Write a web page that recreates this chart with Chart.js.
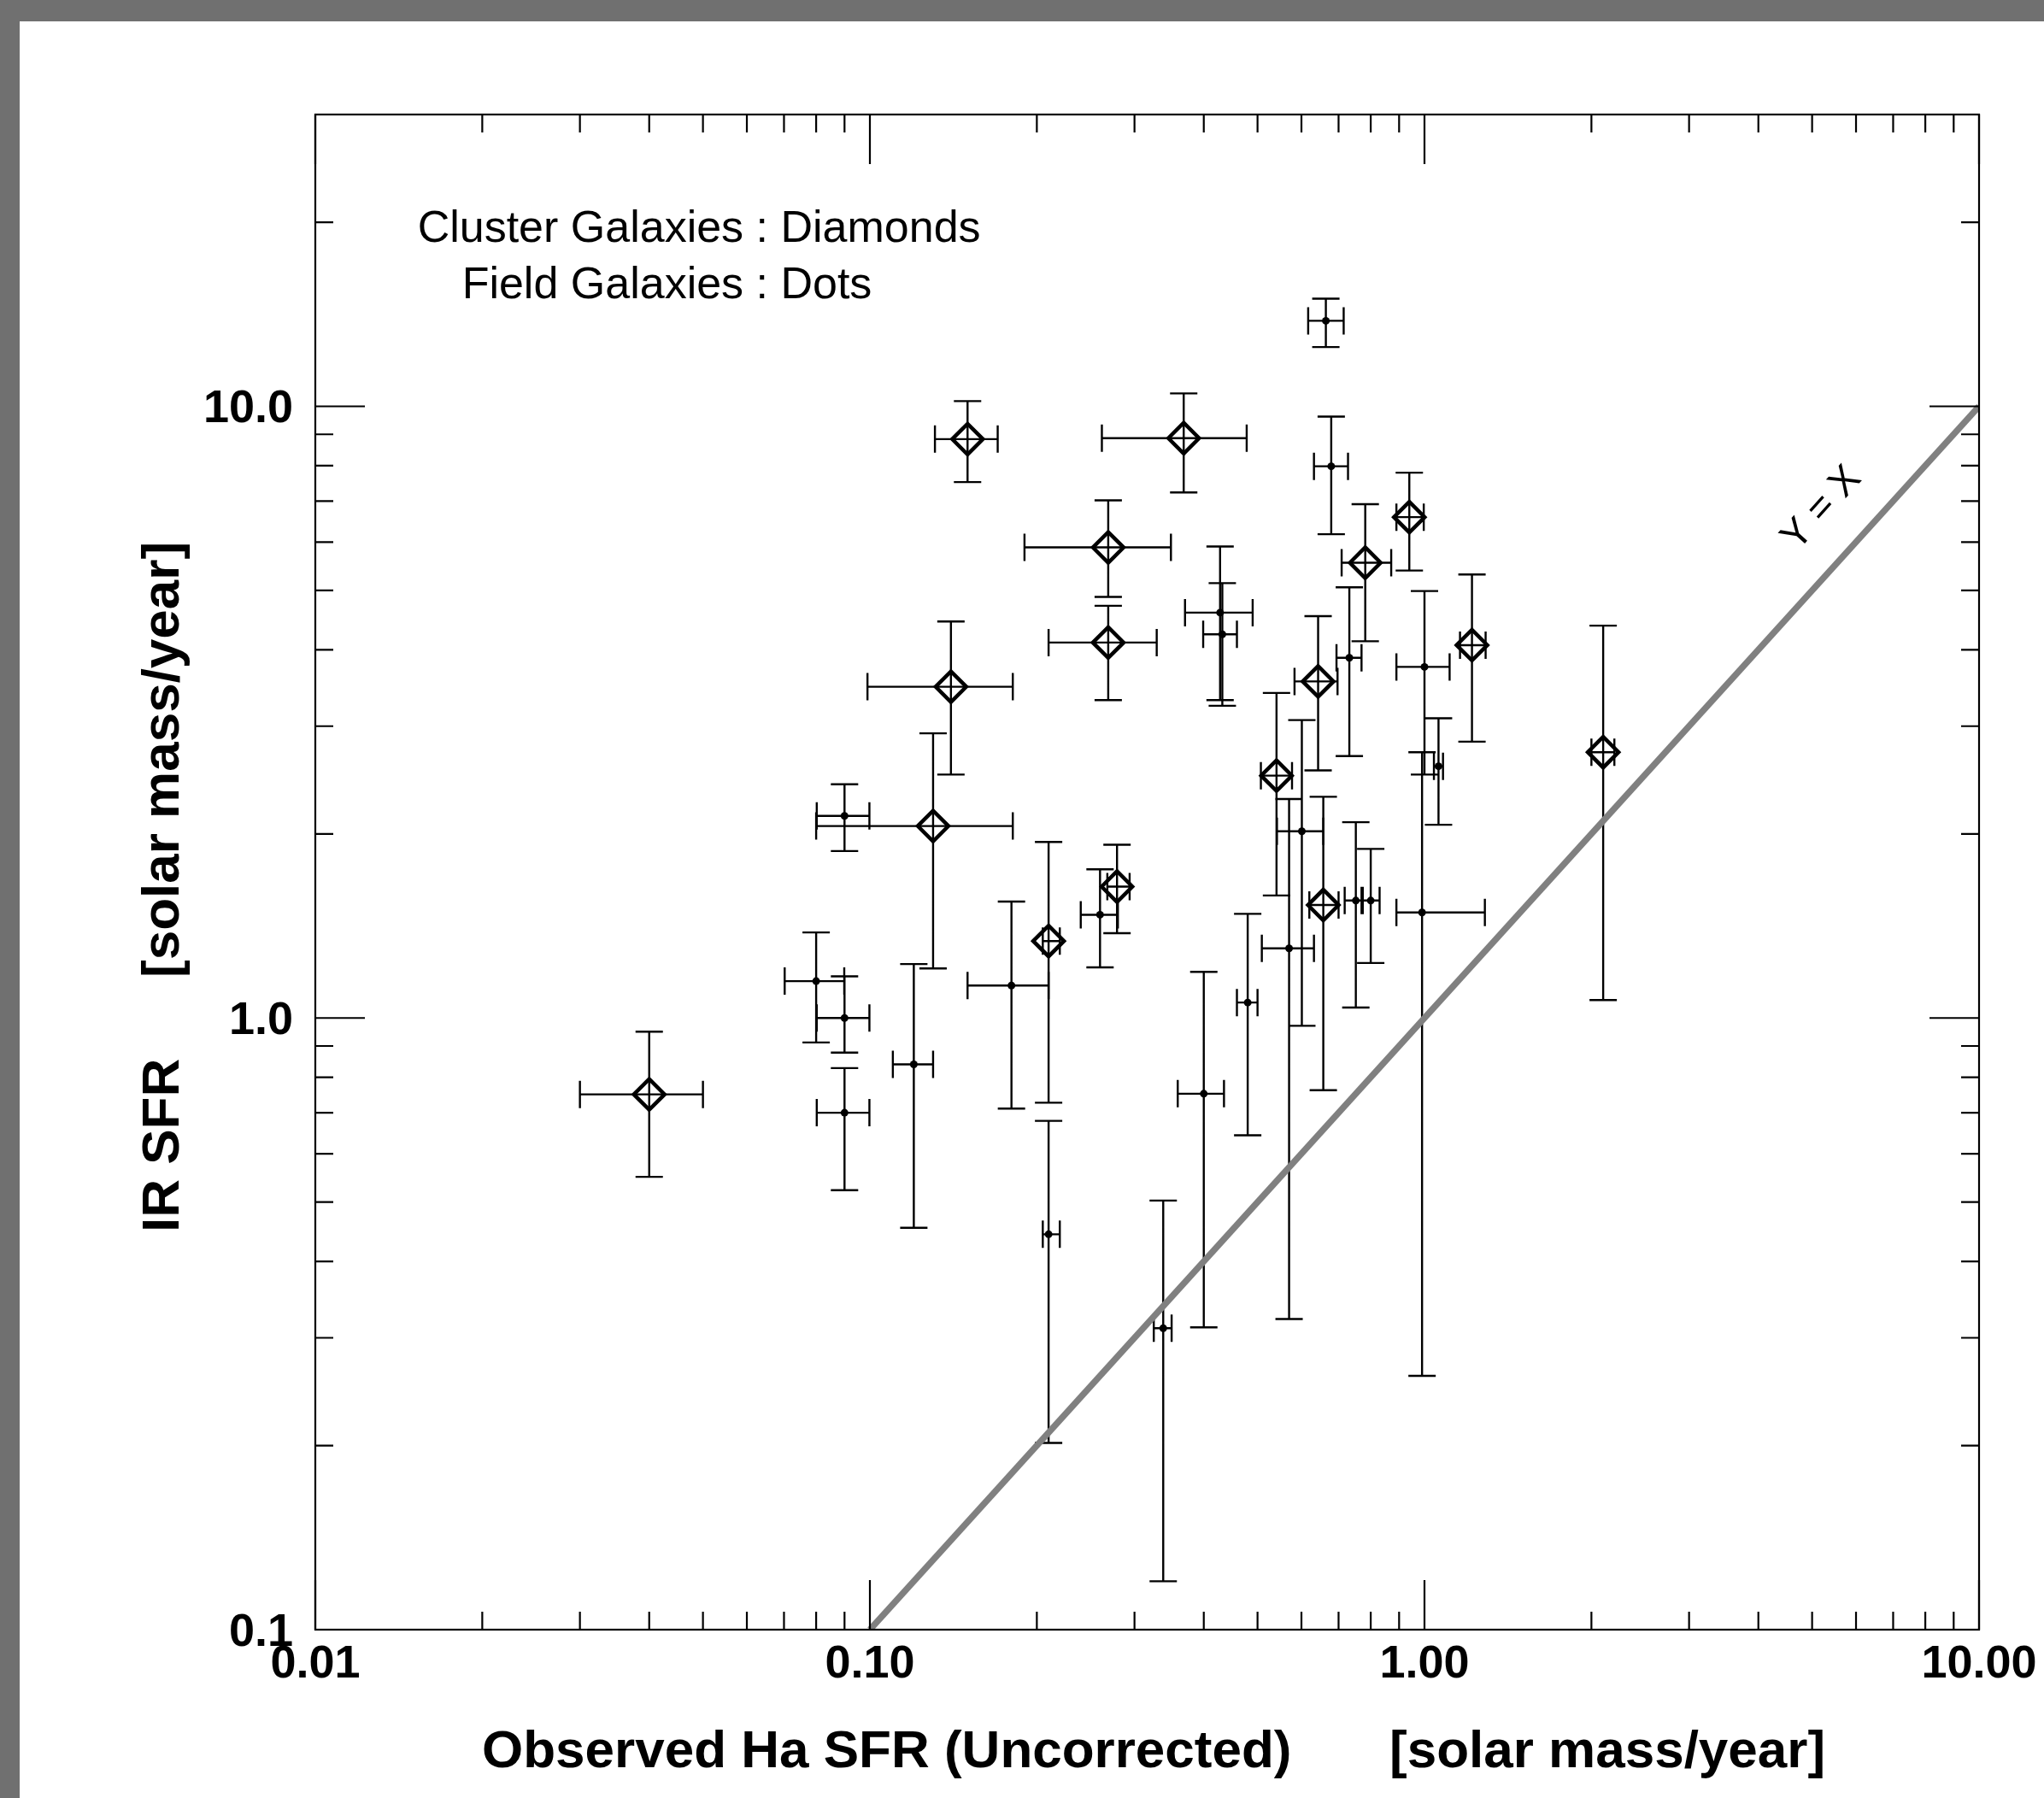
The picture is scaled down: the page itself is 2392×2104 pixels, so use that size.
<!DOCTYPE html>
<html>
<head>
<meta charset="utf-8">
<script src="https://cdn.jsdelivr.net/npm/chart.js@4.4.1/dist/chart.umd.min.js"></script>
<style>
  html, body { margin: 0; padding: 0; background: #707070; }
  #wrap { position: absolute; left: 0; top: 0; width: 2392px; height: 2104px; }
</style>
</head>
<body>
<div id="wrap"><canvas id="sfrChart" width="2392" height="2104"></canvas></div>
<script>
// Cluster galaxies (diamonds): Ha SFR, IR SFR and error bar ends
const clusterX    = [0.040, 0.150, 0.368, 0.269, 0.269, 0.140, 0.130, 0.210, 0.279, 0.541, 0.643, 0.782, 0.939, 1.218, 0.657, 2.10];
const clusterY    = [0.75,  8.84,  8.87,  5.88,  4.11,  3.48,  2.06,  1.336, 1.64,  2.49,  3.55,  5.55,  6.59,  4.07,  1.53,  2.72];
const clusterXLo  = [0.030, 0.131, 0.262, 0.190, 0.210, 0.099, 0.080, 0.205, 0.268, 0.507, 0.583, 0.709, 0.890, 1.159, 0.620, 2.00];
const clusterXHi  = [0.050, 0.170, 0.478, 0.349, 0.329, 0.181, 0.181, 0.220, 0.294, 0.577, 0.697, 0.871, 0.997, 1.289, 0.700, 2.20];
const clusterYLo  = [0.55,  7.52,  7.23,  4.88,  3.31,  2.50,  1.205, 0.727, 1.376, 1.586, 2.54,  4.13,  5.39,  2.83,  0.762, 1.07];
const clusterYHi  = [0.95,  10.2,  10.5,  7.02,  4.72,  4.45,  2.92,  1.94,  1.92,  3.40,  4.54,  6.92,  7.79,  5.31,  2.30,  4.38];

// Field galaxies (dots)
const fieldX   = [0.664, 0.679, 0.428, 0.432, 0.732, 1.00, 0.99,  1.06, 0.601, 0.570, 0.480, 0.752, 0.800, 0.400, 0.090, 0.080, 0.090, 0.090, 0.120, 0.180, 0.260, 0.210, 0.338];
const fieldY   = [13.8,  7.98,  4.60,  4.24,  3.88,  3.75, 1.488, 2.58, 2.02,  1.30,  1.06,  1.556, 1.556, 0.752, 2.14,  1.149, 1.00,  0.70,  0.84,  1.13,  1.475, 0.443, 0.311];
const fieldXLo = [0.617, 0.632, 0.370, 0.399, 0.694, 0.89, 0.89,  1.04, 0.542, 0.509, 0.459, 0.718, 0.770, 0.359, 0.0802, 0.0702, 0.0802, 0.0802, 0.110, 0.150, 0.240, 0.205, 0.325];
const fieldXHi = [0.715, 0.728, 0.490, 0.459, 0.770, 1.11, 1.285, 1.08, 0.657, 0.632, 0.500, 0.774, 0.830, 0.435, 0.0998, 0.0899, 0.0998, 0.0998, 0.130, 0.210, 0.280, 0.220, 0.350];
const fieldYLo = [12.5,  6.18,  3.31,  3.24,  2.68,  2.50, 0.260, 2.07, 0.971, 0.322, 0.643, 1.04,  1.23,  0.312, 1.875, 0.912, 0.878, 0.523, 0.454, 0.711, 1.21,  0.202, 0.120];
const fieldYHi = [15.0,  9.62,  5.90,  5.14,  5.06,  4.99, 2.72,  3.09, 3.07,  2.28,  1.48,  2.09,  1.89,  1.19,  2.41,  1.38,  1.17,  0.828, 1.225, 1.55,  1.75,  0.679, 0.503];

// one-to-one line
const unityX = [0.1, 10];
const unityY = [0.1, 10];

// axis ticks
const xMajorTicks = [0.01, 0.1, 1, 10];
const xTickLabels = ['0.01', '0.10', '1.00', '10.00'];
const yMajorTicks = [0.1, 1, 10];
const yTickLabels = ['0.1', '1.0', '10.0'];

const FONT = '"Liberation Sans", Arial, Helvetica, sans-serif';

function toPoints(xs, ys) {
    return xs.map((x, i) => ({ x: x, y: ys[i] }));
}

function minorTicks(lo, hi) {
    const out = [];
    for (let dec = lo; dec < hi; dec *= 10) {
        for (let m = 2; m <= 9; m++) {
            const v = +(m * dec).toPrecision(3);
            if (v < hi) out.push(v);
        }
    }
    return out;
}

function drawErrorBars(ctx, sx, sy, xs, ys, xlo, xhi, ylo, yhi) {
    const cap = 16;
    ctx.beginPath();
    for (let i = 0; i < xs.length; i++) {
        const px = sx.getPixelForValue(xs[i]);
        const py = sy.getPixelForValue(ys[i]);
        const x1 = sx.getPixelForValue(xlo[i]);
        const x2 = sx.getPixelForValue(xhi[i]);
        const y1 = sy.getPixelForValue(ylo[i]);
        const y2 = sy.getPixelForValue(yhi[i]);
        // horizontal bar + caps
        ctx.moveTo(x1, py); ctx.lineTo(x2, py);
        ctx.moveTo(x1, py - cap); ctx.lineTo(x1, py + cap);
        ctx.moveTo(x2, py - cap); ctx.lineTo(x2, py + cap);
        // vertical bar + caps
        ctx.moveTo(px, y1); ctx.lineTo(px, y2);
        ctx.moveTo(px - cap, y1); ctx.lineTo(px + cap, y1);
        ctx.moveTo(px - cap, y2); ctx.lineTo(px + cap, y2);
    }
    ctx.stroke();
}

const idlFrame = {
    id: 'idlFrame',
    beforeDraw(chart) {
        const ctx = chart.ctx;
        ctx.save();
        ctx.fillStyle = '#ffffff';
        ctx.fillRect(23, 25, chart.width - 23, chart.height - 25);
        ctx.restore();
    },
    beforeDatasetsDraw(chart) {
        const ctx = chart.ctx;
        const a = chart.chartArea;
        const sx = chart.scales.x, sy = chart.scales.y;
        ctx.save();
        ctx.beginPath();
        ctx.rect(a.left, a.top, a.right - a.left, a.bottom - a.top);
        ctx.clip();
        ctx.strokeStyle = '#000';
        ctx.lineWidth = 2.4;
        drawErrorBars(ctx, sx, sy, fieldX, fieldY, fieldXLo, fieldXHi, fieldYLo, fieldYHi);
        drawErrorBars(ctx, sx, sy, clusterX, clusterY, clusterXLo, clusterXHi, clusterYLo, clusterYHi);
        ctx.restore();
    },
    afterDatasetsDraw(chart) {
        const ctx = chart.ctx;
        const a = chart.chartArea;
        const sx = chart.scales.x, sy = chart.scales.y;
        const majLen = 58, minLen = 21;
        ctx.save();
        ctx.strokeStyle = '#000';
        ctx.lineWidth = 2.2;
        ctx.strokeRect(a.left, a.top, a.right - a.left, a.bottom - a.top);

        ctx.beginPath();
        xMajorTicks.forEach(v => {
            const p = sx.getPixelForValue(v);
            ctx.moveTo(p, a.bottom); ctx.lineTo(p, a.bottom - majLen);
            ctx.moveTo(p, a.top); ctx.lineTo(p, a.top + majLen);
        });
        minorTicks(0.01, 10).forEach(v => {
            const p = sx.getPixelForValue(v);
            ctx.moveTo(p, a.bottom); ctx.lineTo(p, a.bottom - minLen);
            ctx.moveTo(p, a.top); ctx.lineTo(p, a.top + minLen);
        });
        yMajorTicks.forEach(v => {
            const p = sy.getPixelForValue(v);
            ctx.moveTo(a.left, p); ctx.lineTo(a.left + majLen, p);
            ctx.moveTo(a.right, p); ctx.lineTo(a.right - majLen, p);
        });
        minorTicks(0.1, 30).forEach(v => {
            const p = sy.getPixelForValue(v);
            ctx.moveTo(a.left, p); ctx.lineTo(a.left + minLen, p);
            ctx.moveTo(a.right, p); ctx.lineTo(a.right - minLen, p);
        });
        ctx.stroke();

        // tick labels
        ctx.fillStyle = '#000';
        ctx.font = 'bold 54px ' + FONT;
        ctx.textBaseline = 'alphabetic';
        ctx.textAlign = 'center';
        xMajorTicks.forEach((v, i) => {
            ctx.fillText(xTickLabels[i], sx.getPixelForValue(v), a.bottom + 56);
        });
        ctx.textAlign = 'right';
        yMajorTicks.forEach((v, i) => {
            ctx.fillText(yTickLabels[i], a.left - 26, sy.getPixelForValue(v) + 19);
        });

        // axis titles
        ctx.font = 'bold 62px ' + FONT;
        ctx.textAlign = 'left';
        ctx.fillText('Observed Ha SFR (Uncorrected)', 564, 2068);
        ctx.fillText('[solar mass/year]', 1626, 2068);
        ctx.save();
        ctx.translate(209, 0);
        ctx.rotate(-Math.PI / 2);
        ctx.fillText('IR SFR', -1442, 0);
        ctx.fillText('[solar mass/year]', -1144, 0);
        ctx.restore();

        // key text
        ctx.font = '52px ' + FONT;
        ctx.textAlign = 'right';
        ctx.fillText('Cluster Galaxies :', 899, 283);
        ctx.fillText('Field Galaxies :', 899, 349);
        ctx.textAlign = 'left';
        ctx.fillText(' Diamonds', 899, 283);
        ctx.fillText(' Dots', 899, 349);

        // Y = X label along the unity line
        const x0 = sx.getPixelForValue(unityX[0]), y0 = sy.getPixelForValue(unityY[0]);
        const x1 = sx.getPixelForValue(unityX[1]), y1 = sy.getPixelForValue(unityY[1]);
        const ang = Math.atan2(y1 - y0, x1 - x0);
        ctx.save();
        ctx.translate(2132, 595);
        ctx.rotate(ang);
        ctx.font = '46px ' + FONT;
        ctx.textAlign = 'center';
        ctx.textBaseline = 'middle';
        ctx.fillText('Y = X', 0, 0);
        ctx.restore();

        ctx.restore();
    }
};

new Chart(document.getElementById('sfrChart'), {
    type: 'scatter',
    data: {
        datasets: [
            {
                type: 'line',
                label: 'Y = X',
                data: toPoints(unityX, unityY),
                borderColor: '#808080',
                borderWidth: 7.5,
                pointRadius: 0,
                fill: false,
                order: 0,
            },
            {
                label: 'Cluster Galaxies',
                data: toPoints(clusterX, clusterY),
                pointStyle: 'rectRot',
                pointRadius: 18,
                borderColor: '#000',
                backgroundColor: 'rgba(0,0,0,0)',
                borderWidth: 4.5,
                order: 1,
            },
            {
                label: 'Field Galaxies',
                data: toPoints(fieldX, fieldY),
                pointStyle: 'circle',
                pointRadius: 4.5,
                borderWidth: 0,
                backgroundColor: '#000',
                order: 2,
            },
        ]
    },
    options: {
        responsive: false,
        devicePixelRatio: 1,
        animation: false,
        events: [],
        layout: { padding: { left: 369, right: 76, top: 134, bottom: 197 } },
        plugins: { legend: { display: false }, tooltip: { enabled: false } },
        scales: {
            x: { type: 'logarithmic', min: 0.01, max: 10, display: false },
            y: { type: 'logarithmic', min: 0.1, max: 30, display: false },
        }
    },
    plugins: [idlFrame]
});
</script>
</body>
</html>
